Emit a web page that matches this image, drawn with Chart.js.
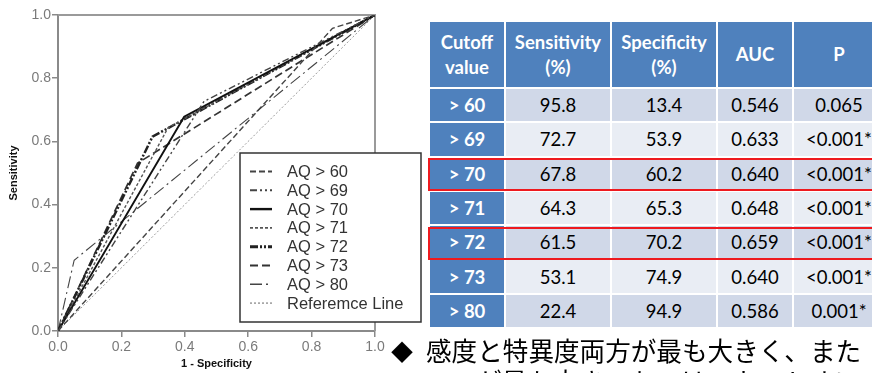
<!DOCTYPE html>
<html>
<head>
<meta charset="utf-8">
<script src="https://cdn.jsdelivr.net/npm/chart.js@4.4.1/dist/chart.umd.min.js"></script>
<style>
  html, body { margin: 0; padding: 0; background: #fff; }
  body { width: 872px; height: 373px; position: relative; overflow: hidden; }
  #roc { position: absolute; left: 0; top: 0; }
  #tbl {
    position: absolute; left: 428px; top: 20px; width: 458px;
    border-collapse: separate; border-spacing: 2px;
    font-family: Lato, "Open Sans", sans-serif; font-size: 18.5px;
    table-layout: fixed;
  }
  #tbl td, #tbl th { padding: 0; text-align: center; vertical-align: middle; white-space: nowrap; }
  #tbl th { background: #4F81BD; color: #fff; font-weight: bold; height: 65px; line-height: 25px; }
  #tbl td { height: 32.3px; color: #000; }
  #tbl td.cut { background: #4F81BD; color: #fff; font-weight: bold; }
  #tbl tr.dark td { background: #D0D8E8; }
  #tbl tr.light td { background: #E9EDF4; }
  #tbl tr td.cut { background: #4F81BD; }
  .hl { position: absolute; border: 2.6px solid #ee1a1f; box-sizing: border-box; pointer-events: none; }
  #note {
    position: absolute; left: 426px; top: 335px;
    font-family: "Noto Sans CJK JP", sans-serif; font-size: 25.6px; line-height: 30.5px;
    color: #000; white-space: nowrap;
  }
  #bullet {
    position: absolute; left: 391px; top: 335px;
    font-family: "Noto Sans CJK JP", sans-serif; font-size: 22px; line-height: 30.5px; color: #000;
  }
</style>
</head>
<body>
<canvas id="roc" width="428" height="373"></canvas>
<table id="tbl"></table>
<div id="bullet">◆</div>
<div id="note"></div>

<script>
// Cut-off values and their diagnostic performance
const cutoffs = ["> 60", "> 69", "> 70", "> 71", "> 72", "> 73", "> 80"];
const sensitivity = [95.8, 72.7, 67.8, 64.3, 61.5, 53.1, 22.4];
const specificity = [13.4, 53.9, 60.2, 65.3, 70.2, 74.9, 94.9];
const aucValues = ["0.546", "0.633", "0.640", "0.648", "0.659", "0.640", "0.586"];
const pValues = ["0.065", "<0.001*", "<0.001*", "<0.001*", "<0.001*", "<0.001*", "0.001*"];
const highlightedCutoffs = ["> 70", "> 72"];

const headerLabels = ["Cutoff<br>value", "Sensitivity<br>(%)", "Specificity<br>(%)", "AUC", "P"];
const columnWidths = [74, 104, 104, 74, 90];

const curveLabels = ["AQ > 60", "AQ > 69", "AQ > 70", "AQ > 71", "AQ > 72", "AQ > 73", "AQ > 80"];
const referenceLabel = "Referemce Line";
const axisTicks = [0, 0.2, 0.4, 0.6, 0.8, 1.0];

const noteLines = ["感度と特異度両方が最も大きく、また", "AUCが最も大きいものは、カットオフ"];

// Line styles for each ROC curve
const curveStyles = [
  { color: "#444", width: 1.4, dash: [6, 3] },
  { color: "#444", width: 1.4, dash: [7, 3, 2, 3, 2, 3] },
  { color: "#111", width: 1.9, dash: [] },
  { color: "#555", width: 1.4, dash: [3, 2] },
  { color: "#222", width: 2.5, dash: [8, 2, 2, 2, 2, 2] },
  { color: "#333", width: 1.7, dash: [8, 4] },
  { color: "#444", width: 1.1, dash: [12, 4, 2, 4] }
];
const referenceStyle = { color: "#9a9a9a", width: 1.0, dash: [2, 2] };

// ---- ROC chart ----
const datasets = cutoffs.map((c, i) => ({
  label: curveLabels[i],
  data: [
    { x: 0, y: 0 },
    { x: +(1 - specificity[i] / 100).toFixed(3), y: sensitivity[i] / 100 },
    { x: 1, y: 1 }
  ],
  borderColor: curveStyles[i].color,
  borderWidth: curveStyles[i].width,
  borderDash: curveStyles[i].dash,
  showLine: true,
  pointRadius: 0,
  tension: 0,
  fill: false
}));
datasets.push({
  label: referenceLabel,
  data: [{ x: 0, y: 0 }, { x: 1, y: 1 }],
  borderColor: referenceStyle.color,
  borderWidth: referenceStyle.width,
  borderDash: referenceStyle.dash,
  showLine: true,
  pointRadius: 0,
  fill: false,
  order: 10
});

const framePlugin = {
  id: "frame",
  beforeDatasetsDraw(chart) {
    const { ctx, chartArea: a } = chart;
    ctx.save();
    ctx.strokeStyle = "#9a9a9a";
    ctx.lineWidth = 2;
    ctx.beginPath();
    ctx.moveTo(a.left, a.top);
    ctx.lineTo(a.right, a.top);
    ctx.lineTo(a.right, a.bottom);
    ctx.stroke();
    ctx.restore();
  }
};

const boxLegendPlugin = {
  id: "boxLegend",
  afterDraw(chart) {
    const ctx = chart.ctx;
    const x0 = 240, y0 = 153, w = 181, h = 169;
    ctx.save();
    ctx.fillStyle = "#fff";
    ctx.fillRect(x0, y0, w, h);
    ctx.strokeStyle = "#333";
    ctx.lineWidth = 1.5;
    ctx.strokeRect(x0, y0, w, h);
    ctx.font = '16.5px "Liberation Sans", Arial, sans-serif';
    ctx.textBaseline = "middle";
    chart.data.datasets.forEach((ds, i) => {
      const y = y0 + 18.5 + i * 18.8;
      ctx.strokeStyle = ds.borderColor;
      ctx.lineWidth = ds.borderWidth + 0.5;
      ctx.setLineDash(ds.borderDash.length ? ds.borderDash : []);
      ctx.beginPath();
      ctx.moveTo(x0 + 10, y);
      ctx.lineTo(x0 + 32, y);
      ctx.stroke();
      ctx.setLineDash([]);
      ctx.fillStyle = "#333";
      ctx.fillText(ds.label, x0 + 47, y + 1);
    });
    ctx.restore();
  }
};

const tickFont = { family: '"Liberation Sans", Arial, sans-serif', size: 14 };
const titleFont = { family: '"Liberation Sans", Arial, sans-serif', size: 11, weight: "bold" };

new Chart(document.getElementById("roc"), {
  type: "scatter",
  data: { datasets },
  options: {
    responsive: false,
    animation: false,
    devicePixelRatio: 1,
    layout: { padding: { top: 15, right: 53, bottom: 0, left: 0 } },
    plugins: { legend: { display: false }, tooltip: { enabled: false } },
    scales: {
      x: {
        type: "linear", min: 0, max: 1,
        afterFit(s) { s.height = 42; },
        afterBuildTicks(s) { s.ticks = axisTicks.map(v => ({ value: v })); },
        ticks: { color: "#7a7a7a", font: tickFont, padding: 2, maxRotation: 0,
                 callback: v => v.toFixed(1) },
        grid: { display: true, drawOnChartArea: false, drawTicks: true, tickLength: 6,
                color: "#8a8a8a", lineWidth: 1.5 },
        border: { display: true, color: "#8a8a8a", width: 2 },
        title: { display: true, text: "1 - Specificity", color: "#111", font: titleFont,
                 padding: { top: 0, bottom: 2 } }
      },
      y: {
        type: "linear", min: 0, max: 1,
        afterFit(s) { s.width = 58; },
        afterBuildTicks(s) { s.ticks = axisTicks.map(v => ({ value: v })); },
        ticks: { color: "#7a7a7a", font: tickFont, padding: 1,
                 callback: v => v.toFixed(1) },
        grid: { display: true, drawOnChartArea: false, drawTicks: true, tickLength: 6,
                color: "#8a8a8a", lineWidth: 1.5 },
        border: { display: true, color: "#8a8a8a", width: 2 },
        title: { display: true, text: "Sensitivity", color: "#111", font: titleFont,
                 padding: { top: 7, bottom: 0 } }
      }
    }
  },
  plugins: [framePlugin, boxLegendPlugin]
});

// ---- Results table ----
const tbl = document.getElementById("tbl");
const colgroup = document.createElement("colgroup");
columnWidths.forEach(w => {
  const col = document.createElement("col");
  col.style.width = w + "px";
  colgroup.appendChild(col);
});
tbl.appendChild(colgroup);

const head = document.createElement("tr");
headerLabels.forEach(h => {
  const th = document.createElement("th");
  th.innerHTML = h;
  head.appendChild(th);
});
tbl.appendChild(head);

const rows = [];
cutoffs.forEach((c, i) => {
  const tr = document.createElement("tr");
  tr.className = i % 2 === 0 ? "dark" : "light";
  const cells = [c, sensitivity[i].toFixed(1), specificity[i].toFixed(1), aucValues[i], pValues[i]];
  cells.forEach((v, j) => {
    const td = document.createElement("td");
    td.textContent = v;
    if (j === 0) td.className = "cut";
    tr.appendChild(td);
  });
  tbl.appendChild(tr);
  rows.push(tr);
});

// Red outlines around the emphasised cut-offs
cutoffs.forEach((c, i) => {
  if (!highlightedCutoffs.includes(c)) return;
  const r = rows[i].getBoundingClientRect();
  const box = document.createElement("div");
  box.className = "hl";
  box.style.left = (r.left - 2) + "px";
  box.style.top = (r.top + 0.5) + "px";
  box.style.width = (890 - r.left) + "px";
  box.style.height = (r.height + 1) + "px";
  document.body.appendChild(box);
});

document.getElementById("note").innerHTML = noteLines.join("<br>");
</script>
</body>
</html>
